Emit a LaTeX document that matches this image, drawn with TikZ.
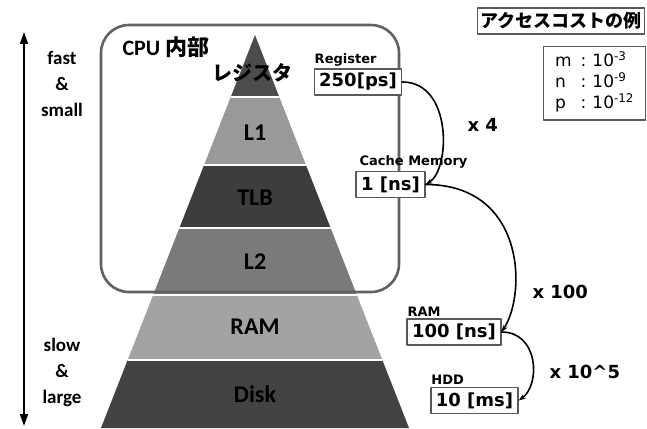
\documentclass[tikz,border=0pt]{standalone}
\usepackage{fontspec}
\setmainfont{Carlito}
\newfontfamily\vfont{DejaVu Sans}
\newfontfamily\jfont{Noto Sans CJK JP}
\usetikzlibrary{positioning,arrows.meta}

\begin{document}
\begin{tikzpicture}[x=1pt,y=-1pt,line join=round,line cap=round,>=stealth,
    sep/.style={white,line width=1.5pt},
    layer/.style={font=\bfseries\fontsize{24}{24}\selectfont},
    valbox/.style={draw=black!65,line width=1.3pt,fill=white,inner xsep=5pt,inner ysep=0pt,
      minimum height=26pt,font=\vfont\bfseries\fontsize{18}{18}\selectfont},
    tag/.style={inner sep=1pt,font=\vfont\bfseries\fontsize{13}{13}\selectfont},
    ratio/.style={font=\vfont\bfseries\fontsize{18}{18}\selectfont},
    side/.style={align=center,font=\bfseries\fontsize{19}{26}\selectfont},
    cost/.style={-{Stealth[length=7pt,width=5pt]},line width=1.6pt}]
  \useasboundingbox (0,0) rectangle (647,428);

  % Pyramid bands
  \begin{scope}
    \clip (255,35) -- (409,428) -- (101,428) -- cycle;
    \foreach \ya/\yb/\g in {30/97/70,97/165/40,165/228/76,228/295/52,295/360/36,360/430/74}
      \fill[black!\g] (90,\ya) rectangle (420,\yb);
    \foreach \yy in {97,165,228,295,360}
      \draw[sep] (90,\yy) -- (420,\yy);
  \end{scope}

  % Layer names
  \node[font=\jfont\bfseries\fontsize{20}{20}\selectfont] (regname) at (252,73) {レジスタ};
  \node[layer] (l1) at (255,133) {L1};
  \node[layer] (tlb) at (255,198) {TLB};
  \node[layer] (l2) at (255,262) {L2};
  \node[layer] (ramname) at (255,327) {RAM};
  \node[layer] (disk) at (255,394) {Disk};

  % CPU frame
  \draw[black!62,line width=2.6pt,rounded corners=28pt] (101,25) rectangle (399,292);
  \node[anchor=west,font=\bfseries\fontsize{22}{22}\selectfont] (cpu) at (119,47)
    {CPU {\jfont 内部}};

  % Speed / size axis
  \coordinate (top) at (24,32);
  \coordinate (bot) at (24,426);
  \draw[{Triangle[length=12pt,width=8pt]}-{Triangle[length=12pt,width=8pt]},line width=1.6pt] (top) -- (bot);
  \node[side] (fast) at (62,84) {fast\\\&\\small};
  \node[side] (slow) at (62,372) {slow\\\&\\large};

  % Access times
  \node[valbox] (reg) at (358,82) {250[ps]};
  \node[valbox] (cache) at (390.5,184.5) {1 [ns]};
  \node[valbox] (ram) at (454,332) {100 [ns]};
  \node[valbox] (hdd) at (474.5,400.5) {10 [ms]};
  \node[tag,above=1pt of reg.north west,anchor=south west] (reglbl) {Register};
  \node[tag,above=1pt of cache.north west,anchor=south west,xshift=3pt] (cachelbl) {Cache Memory};
  \node[tag,above=1pt of ram.north west,anchor=south west] (ramlbl) {RAM};
  \node[tag,above=1pt of hdd.north west,anchor=south west] (hddlbl) {HDD};

  % Ratios
  \draw[cost] (reg.east) .. controls +(50,0) and +(25,-15) .. (cache.east);
  \draw[cost] (cache.east) .. controls +(100,0) and +(25,-38) .. (ram.east);
  \draw[cost] (ram.east) .. controls +(37,0) and +(22,-16) .. (hdd.east);
  \node[ratio,anchor=west] (x4) at (464,125) {x 4};
  \node[ratio,anchor=west] (x100) at (529,292) {x 100};
  \node[ratio,anchor=west] (x105) at (546,372) {x 10\^{}5};

  % Legend
  \node[draw=black!65,line width=1.2pt,minimum width=152pt,minimum height=26pt,
    font=\jfont\bfseries\fontsize{18}{18}\selectfont] (legtitle) at (561,21) {アクセスコストの例};
  \node[draw=black!65,line width=1.2pt,anchor=north west,inner xsep=8pt,inner ysep=5pt,
    minimum width=102pt,minimum height=72pt,align=left,
    font=\vfont\fontsize{17}{20}\selectfont] (units) at (543,46)
    {\begin{tabular}{@{}l@{\hspace{9pt}}l@{\hspace{6pt}}l@{}}
       m & : & 10\textsuperscript{-3}\\
       n & : & 10\textsuperscript{-9}\\
       p & : & 10\textsuperscript{-12}
     \end{tabular}};
\end{tikzpicture}
\end{document}
